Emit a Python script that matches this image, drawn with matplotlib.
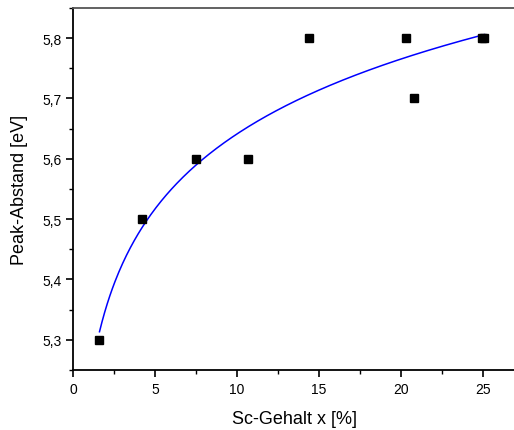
import numpy as np
import matplotlib.pyplot as plt
from matplotlib.ticker import MultipleLocator, FuncFormatter

plt.rcParams['font.family'] = ['Liberation Sans', 'DejaVu Sans']

# Sc-Gehalt vs. Peak-Abstand
sc_content = [1.6, 4.2, 7.5, 10.7, 14.4, 20.3, 20.8, 24.95, 25.1]
peak_distance = [5.3, 5.5, 5.6, 5.6, 5.8, 5.8, 5.7, 5.8, 5.8]

# logarithmic fit y = a + b*ln(x)
b, a = np.polyfit(np.log(sc_content), peak_distance, 1)
x_fit = np.linspace(min(sc_content), max(sc_content), 300)
y_fit = a + b * np.log(x_fit)

fig = plt.figure(figsize=(5.14, 4.31), dpi=100)
ax = fig.add_axes([0.1426, 0.1392, 0.860, 0.840])

ax.plot(x_fit, y_fit, color='#0000ff', lw=1.1, zorder=2)
ax.plot(sc_content, peak_distance, 's', color='black', ms=6, zorder=3)

ax.set_xlim(0, 27)
ax.set_ylim(5.25, 5.85)
ax.xaxis.set_major_locator(MultipleLocator(5))
ax.xaxis.set_minor_locator(MultipleLocator(2.5))
ax.yaxis.set_major_locator(MultipleLocator(0.1))
ax.yaxis.set_minor_locator(MultipleLocator(0.05))
ax.yaxis.set_major_formatter(FuncFormatter(lambda v, p: ('%.1f' % v).replace('.', ',')))

ax.tick_params(which='both', direction='out', top=False, right=False, labelsize=10)
ax.tick_params(which='major', length=5, width=1.2)
ax.tick_params(which='minor', length=3, width=1.0)

for s in ['left', 'bottom']:
    ax.spines[s].set_linewidth(1.3)
ax.spines['top'].set_color('#555555')
ax.spines['top'].set_linewidth(1.3)
ax.spines['right'].set_visible(False)

ax.set_xlabel('Sc-Gehalt x [%]', fontsize=13, labelpad=10)
ax.set_ylabel('Peak-Abstand [eV]', fontsize=13, labelpad=10)

fig.savefig('out.png', dpi=100)
